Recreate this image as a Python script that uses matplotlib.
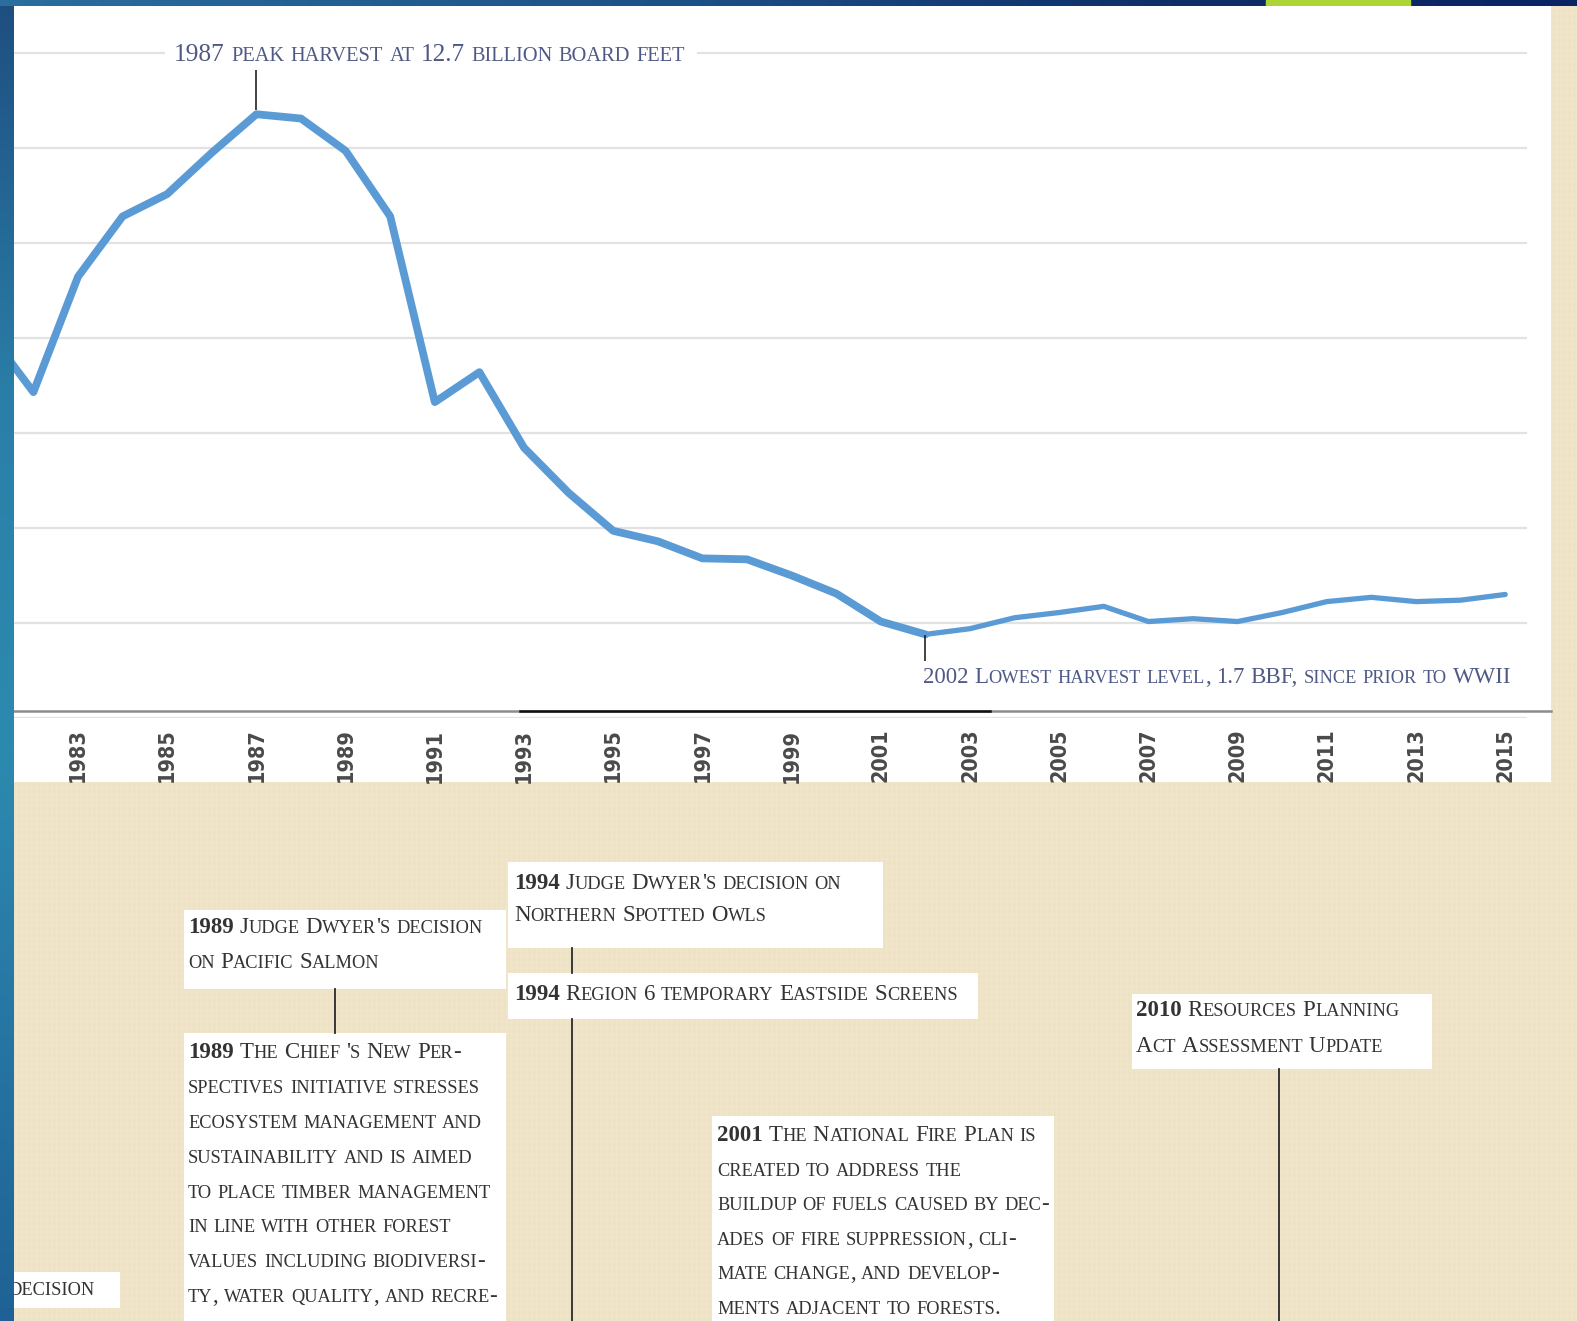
import numpy as np
import matplotlib
matplotlib.use("Agg")
import matplotlib.pyplot as plt
from matplotlib.patches import Rectangle
from matplotlib.lines import Line2D

W, H = 1577, 1321

# timber harvest, billion board feet
years = list(range(1981, 2016))
harvest = [8.1, 6.85, 9.28, 10.55, 11.02, 11.89, 12.7, 12.61, 11.93, 10.55,
           6.64, 7.27, 5.68, 4.73, 3.93, 3.71, 3.35, 3.33, 2.99, 2.61,
           2.02, 1.75, 1.87, 2.1, 2.21, 2.34, 2.02, 2.08, 2.02, 2.21,
           2.44, 2.53, 2.44, 2.47, 2.59]
tick_years = list(range(1983, 2016, 2))
grid_levels = list(range(0, 15, 2))

peak_note = "1987 peak harvest at 12.7 billion board feet"
low_note = "2002 Lowest harvest level, 1.7 BBF, since prior to WWII"

salmon_lines = ["1989 Judge Dwyer's decision", "on Pacific Salmon"]
chief_lines = ["1989 The Chief 's New Per-", "spectives initiative stresses",
               "ecosystem management and", "sustainability and is aimed",
               "to place timber management", "in line with other forest",
               "values including biodiversi-", "ty, water quality, and recre-"]
owls_lines = ["1994 Judge Dwyer's decision on", "Northern Spotted Owls"]
screens_lines = ["1994 Region 6 temporary Eastside Screens"]
fire_lines = ["2001 The National Fire Plan is", "created to address the",
              "buildup of fuels caused by dec-", "ades of fire suppression, cli-",
              "mate change, and develop-", "ments adjacent to forests."]
rpa_lines = ["2010 Resources Planning", "Act Assessment Update"]
cut_lines = ["decision"]

SERIF = ["Liberation Serif", "DejaVu Serif"]
BLUE = "#5B9BD5"
NOTE_COL = "#4F5985"
TXT_COL = "#333333"
BEIGE = np.array([240, 228, 200]) / 255.0

fig = plt.figure(figsize=(W / 100, H / 100), dpi=100, facecolor=BEIGE)
r = fig.canvas.get_renderer()

# linen-like background
bg = fig.add_axes([0, 0, 1, 1], zorder=-5)
bg.axis("off")
xs = np.arange(W)
ys = np.arange(H)
shade = 1 + 0.007 * np.sin(2 * np.pi * xs / 5.0)[None, :] + 0.004 * np.sin(2 * np.pi * ys / 6.0)[:, None]
img = np.clip(BEIGE[None, None, :] * shade[:, :, None], 0, 1).astype(np.float32)
bg.imshow(img, extent=(0, W, H, 0), aspect="auto", interpolation="nearest")


def px_rect(x0, y0, x1, y1, color="white", z=1):
    fig.add_artist(Rectangle((x0 / W, 1 - y1 / H), (x1 - x0) / W, (y1 - y0) / H,
                             facecolor=color, edgecolor="none", zorder=z))


def px_line(x0, y0, x1, y1, color="#2a2a2a", lw=1.3, z=1):
    fig.add_artist(Line2D([x0 / W, x1 / W], [1 - y0 / H, 1 - y1 / H], color=color, lw=lw, zorder=z))


# white chart panel
px_rect(14, 6, 1551, 782, z=-1)

# chart
ax = fig.add_axes([14 / W, 1 - 717.5 / H, (1527 - 14) / W, 712.5 / H], zorder=0)
ax.set_facecolor("none")
ax.set_xlim(1983 + (14 - 78) / 44.6, 1983 + (1527 - 78) / 44.6)
ax.set_ylim(0, 15)
ax.set_yticks(grid_levels)
ax.yaxis.grid(True, color="#E2E2E2", lw=1.6)
ax.set_axisbelow(True)
for s in ax.spines.values():
    s.set_visible(False)
ax.tick_params(axis="y", left=False, labelleft=False)
ax.set_xticks(tick_years)
ax.set_xticklabels([str(y) for y in tick_years], rotation=90, fontsize=15.5,
                   family="DejaVu Sans", stretch="condensed", weight="bold", color="#4a4a4a")
ax.tick_params(axis="x", length=0, pad=8)

low_i = int(np.argmin(harvest))
peak_i = int(np.argmax(harvest))
ax.plot(years[:low_i + 1], harvest[:low_i + 1], color=BLUE, lw=5.6,
        solid_joinstyle="round", solid_capstyle="round")
ax.plot(years[low_i:], harvest[low_i:], color=BLUE, lw=3.8,
        solid_joinstyle="round", solid_capstyle="round")
ax.vlines(years[peak_i], harvest[peak_i] + 0.1, 13.63, color="#222222", lw=1.2)
ax.vlines(years[low_i], harvest[low_i] - 0.57, harvest[low_i] - 0.02, color="#222222", lw=1.2)

# frame line under the plot
px_line(14, 711, 1551, 711, color="#8C8C8C", lw=1.8)
px_line(520, 711, 990, 711, color="#111111", lw=1.8)


# small caps text helper
def runs_of(s, bold_lead):
    out = []
    for wi, w in enumerate(s.split(" ")):
        bold = bold_lead and wi == 0
        cur, kind = "", None
        for ch in w:
            k = "small" if ch.islower() else "big"
            if cur and k != kind:
                out.append((cur, kind, bold))
                cur = ""
            kind = k
            cur += ch
        if cur:
            out.append((cur, kind, bold))
        out.append((" ", "space", bold))
    return out[:-1]


def space_w(fs, weight):
    t1 = fig.text(0, 0, "I I", fontsize=fs, family=SERIF, weight=weight)
    t2 = fig.text(0, 0, "II", fontsize=fs, family=SERIF, weight=weight)
    w = t1.get_window_extent(renderer=r).width - t2.get_window_extent(renderer=r).width
    t1.remove()
    t2.remove()
    return w


def draw_sc(x, y, s, size, color, bold_lead=False, small=0.8):
    arts = []
    cx = x
    sp = space_w(size, "normal")
    for run, kind, bold in runs_of(s, bold_lead):
        if kind == "space":
            cx += sp
            continue
        fs = size * small if kind == "small" else size
        t = fig.text(cx / W, 1 - y / H, run.upper(), fontsize=fs, family=SERIF,
                     weight="bold" if bold else "normal", color=color,
                     va="baseline", ha="left", zorder=3)
        cx += t.get_window_extent(renderer=r).width
        arts.append(t)
    return arts, cx - x


def draw_fit(x, y, s, target, color, size0=14):
    arts, w = draw_sc(x, y, s, size0, color)
    for a in arts:
        a.remove()
    draw_sc(x, y, s, size0 * target / w, color)


# chart notes
px_rect(165, 44, 697, 66, z=2)
draw_fit(174, 61, peak_note, 511, NOTE_COL)
draw_fit(923, 683, low_note, 588, NOTE_COL)

# timeline boxes
TL = 16.5


def box(rect, lines, tx, ty, step=35, lead=True):
    px_rect(*rect, z=1)
    for i, ln in enumerate(lines):
        draw_sc(tx, ty + i * step, ln, TL, TXT_COL, bold_lead=(lead and i == 0))


box((184, 910, 506, 989), salmon_lines, 188, 933)
box((184, 1033, 506, 1330), chief_lines, 188, 1058, step=34.9)
box((508, 862, 883, 948), owls_lines, 514, 889, step=32)
box((508, 973, 978, 1019), screens_lines, 514, 1000)
box((712, 1116, 1054, 1330), fire_lines, 717, 1141, step=34.6)
box((1132, 994, 1432, 1069), rpa_lines, 1136, 1016, step=36)
box((0, 1272, 120, 1308), cut_lines, 8, 1295, lead=False)

px_line(335, 989, 335, 1033)
px_line(572, 948, 572, 973)
px_line(572, 1019, 572, 1321)
px_line(1279, 1069, 1279, 1321)


# slide border strips
def gradient(stops, n):
    pos = [p for p, _ in stops]
    cols = np.array([matplotlib.colors.to_rgb(c) for _, c in stops])
    t = np.arange(n)
    return np.stack([np.interp(t, pos, cols[:, k]) for k in range(3)], axis=-1)


left = fig.add_axes([0, 0, 14 / W, 1], zorder=10)
left.axis("off")
lg = gradient([(0, "#1E4E80"), (400, "#2A7FA8"), (750, "#2D8AAF"), (1321, "#1F6196")], H)
left.imshow(lg[:, None, :], extent=(0, 14, H, 0), aspect="auto")

top = fig.add_axes([0, 1 - 6 / H, 1, 6 / H], zorder=10)
top.axis("off")
tg = gradient([(0, "#2A6F9E"), (700, "#1C4F85"), (1200, "#0E2C66"), (1577, "#0A2463")], W)
top.imshow(tg[None, :, :], extent=(0, W, 6, 0), aspect="auto")
top.set_xlim(0, W)
top.set_ylim(6, 0)
top.axvspan(1266, 1410, color="#ADD536")

fig.savefig("out.png", dpi=100, facecolor=fig.get_facecolor())
